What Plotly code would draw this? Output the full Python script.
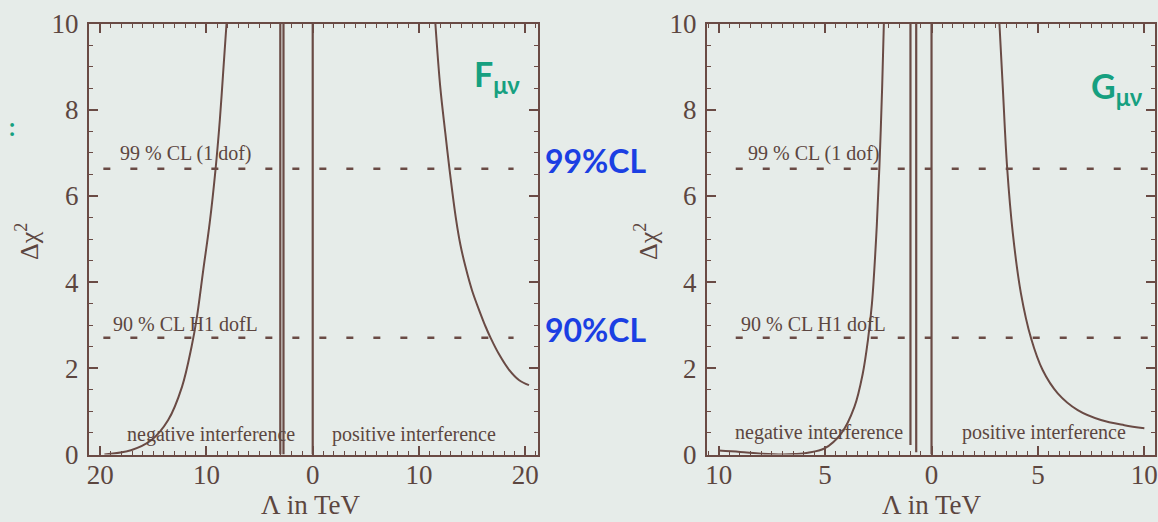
import plotly.graph_objects as go

# ---------------- data ----------------
# Panel 1 (F_mu_nu): Lambda in TeV (negative-interference side drawn mirrored at x<0)
f_neg_x = [-19.6, -17.1, -15.2, -13.6, -12.3, -11.4, -10.9, -10.3, -9.69, -9.15, -8.74, -8.43, -8.11]
f_neg_y = [0.0, 0.1, 0.33, 0.8, 1.57, 2.5, 3.18, 4.28, 5.38, 6.6, 7.76, 8.85, 10.0]
f_pos_x = [11.54, 12.0, 12.48, 12.86, 13.49, 13.9, 14.37, 15.0, 15.78, 16.26, 16.75, 17.52, 18.46, 19.4, 20.35]
f_pos_y = [10.0, 8.53, 7.45, 6.64, 5.45, 4.86, 4.36, 3.80, 3.27, 2.97, 2.70, 2.33, 1.97, 1.73, 1.61]
f_pole_x = [-3.05, -2.75]
f_pole_ybot = [0.0, 0.0]

# Panel 2 (G_mu_nu)
g_neg_x = [-10.0, -9.0, -8.0, -7.0, -6.4, -5.81, -5.03, -4.24, -3.62, -3.23, -2.99, -2.8, -2.6, -2.45, -2.32, -2.24]
g_neg_y = [0.09, 0.06, 0.02, 0.0, 0.01, 0.04, 0.14, 0.49, 1.11, 1.88, 2.65, 3.5, 5.05, 6.67, 8.53, 10.0]
g_pos_x = [3.19, 3.35, 3.55, 3.82, 4.2, 4.68, 5.22, 5.93, 6.87, 7.96, 9.06, 10.0]
g_pos_y = [10.0, 8.5, 6.67, 5.13, 3.74, 2.69, 1.96, 1.42, 1.03, 0.8, 0.68, 0.61]
g_pole_x = [-0.99, -0.72]
g_pole_ybot = [0.22, 0.05]

cl_levels = [6.63, 2.71]
cl_labels = ["99 % CL (1 dof)", "90 % CL H1 dofL"]
cl_label_y = [6.98, 3.02]

f_ticks = [-20, -10, 0, 10, 20]
f_ticktext = ["20", "10", "0", "10", "20"]
g_ticks = [-10, -5, 0, 5, 10]
g_ticktext = ["10", "5", "0", "5", "10"]
y_ticks = [0, 2, 4, 6, 8, 10]

# ---------------- style ----------------
BG = "#e6ece9"
INK = "#6a4b45"
TXT = "#5c4640"
SERIF = "Liberation Serif, Times New Roman, serif"
W, H = 1158, 522

fig = go.Figure()

def curve(x, y, xa, ya):
    fig.add_trace(go.Scatter(x=x, y=y, mode="lines", xaxis=xa, yaxis=ya,
                             line=dict(color=INK, width=2, shape="spline", smoothing=1.0),
                             hoverinfo="skip", showlegend=False))

def vline(x, ybot, xa, ya):
    fig.add_trace(go.Scatter(x=[x, x], y=[ybot, 10], mode="lines", xaxis=xa, yaxis=ya,
                             line=dict(color=INK, width=2.2),
                             hoverinfo="skip", showlegend=False))

def hdash(x0, x1, y, xa, ya):
    fig.add_trace(go.Scatter(x=[x0, x1], y=[y, y], mode="lines", xaxis=xa, yaxis=ya,
                             line=dict(color=INK, width=2.6, dash="7px,20px"),
                             hoverinfo="skip", showlegend=False))

# panel 1
curve(f_neg_x, f_neg_y, "x", "y")
curve(f_pos_x, f_pos_y, "x", "y")
for px, pb in zip(f_pole_x, f_pole_ybot):
    vline(px, pb, "x", "y")
vline(0, 0, "x", "y")
for lv in cl_levels:
    hdash(-19.7, 18.9, lv, "x", "y")

# panel 2
curve(g_neg_x, g_neg_y, "x2", "y2")
curve(g_pos_x, g_pos_y, "x2", "y2")
for px, pb in zip(g_pole_x, g_pole_ybot):
    vline(px, pb, "x2", "y2")
vline(0, 0, "x2", "y2")
for lv in cl_levels:
    hdash(-9.2, 10.5, lv, "x2", "y2")

# axes
def xaxis(dom, rng, tv, tt, minor, anchor):
    return dict(domain=dom, range=rng, tickvals=tv, ticktext=tt, ticks="inside", ticklen=9,
                tickwidth=1.5, tickcolor=INK, showline=True, linecolor=INK, linewidth=2,
                mirror="ticks", showgrid=False, zeroline=False, anchor=anchor,
                minor=dict(ticks="inside", dtick=minor, ticklen=4, tickcolor=INK, tickwidth=1.2),
                tickfont=dict(family=SERIF, size=27, color=TXT), ticklabelstandoff=-5,
                automargin=False, fixedrange=True)

def yaxis(dom, anchor):
    return dict(domain=dom, range=[0, 10], tickvals=y_ticks, ticks="inside", ticklen=9,
                tickwidth=1.5, tickcolor=INK, showline=True, linecolor=INK, linewidth=2,
                mirror="ticks", showgrid=False, zeroline=False, anchor=anchor,
                minor=dict(ticks="inside", dtick=0.5, ticklen=4, tickcolor=INK, tickwidth=1.2),
                tickfont=dict(family=SERIF, size=27, color=TXT), ticklabelstandoff=3,
                automargin=False, fixedrange=True)

ydom = [1 - 454.5 / H, 1 - 23.5 / H]
fig.update_layout(
    width=W, height=H, margin=dict(l=0, r=0, t=0, b=0, pad=0, autoexpand=False),
    paper_bgcolor=BG, plot_bgcolor=BG, showlegend=False,
    xaxis=xaxis([89 / W, 537.5 / W], [-21.05, 21.15], f_ticks, f_ticktext, 1, "y"),
    yaxis=yaxis(ydom, "x"),
    xaxis2=xaxis([707 / W, 1155 / W], [-10.55, 10.5], g_ticks, g_ticktext, 0.5, "y2"),
    yaxis2=yaxis(ydom, "x2"),
)

ann = []
def txt(text, x, y, xref, yref, size, color=TXT, family=SERIF, angle=0, xanchor="center"):
    ann.append(dict(text=text, x=x, y=y, xref=xref, yref=yref, showarrow=False,
                    font=dict(family=family, size=size, color=color), textangle=angle,
                    xanchor=xanchor, yanchor="middle"))

# in-plot labels
for lab, ly in zip(cl_labels, cl_label_y):
    txt(lab, -12.0, ly, "x", "y", 20)
    txt(lab, -5.55, ly, "x2", "y2", 20)
txt("negative interference", -9.6, 0.47, "x", "y", 20)
txt("positive interference", 9.5, 0.47, "x", "y", 20)
txt("negative interference", -5.27, 0.5, "x2", "y2", 20)
txt("positive interference", 5.3, 0.5, "x2", "y2", 20)

# axis titles
txt("Λ in TeV", 310 / W, 1 - 505 / H, "paper", "paper", 27)
txt("Λ in TeV", 931 / W, 1 - 505 / H, "paper", "paper", 27)
txt("Δχ<sup>2</sup>", 27 / W, 1 - 242 / H, "paper", "paper", 26, angle=-90)
txt("Δχ<sup>2</sup>", 646 / W, 1 - 242 / H, "paper", "paper", 26, angle=-90)

# handwritten notes
TEAL = "#16a080"
BLUE = "#1b3fe3"
HAND = "Lato, sans-serif"
txt("<b>F<sub>μν</sub></b>", 497 / W, 1 - 76 / H, "paper", "paper", 34, color=TEAL, family=HAND)
txt("<b>G<sub>μν</sub></b>", 1117 / W, 1 - 88 / H, "paper", "paper", 34, color=TEAL, family=HAND)
txt("<b>99%CL</b>", 596 / W, 1 - 161 / H, "paper", "paper", 32, color=BLUE, family=HAND)
txt("<b>90%CL</b>", 596 / W, 1 - 329 / H, "paper", "paper", 32, color=BLUE, family=HAND)
txt("<b>:</b>", 12 / W, 1 - 126 / H, "paper", "paper", 24, color=TEAL, family=HAND)

fig.update_layout(annotations=ann)
fig.write_html("out.html")
